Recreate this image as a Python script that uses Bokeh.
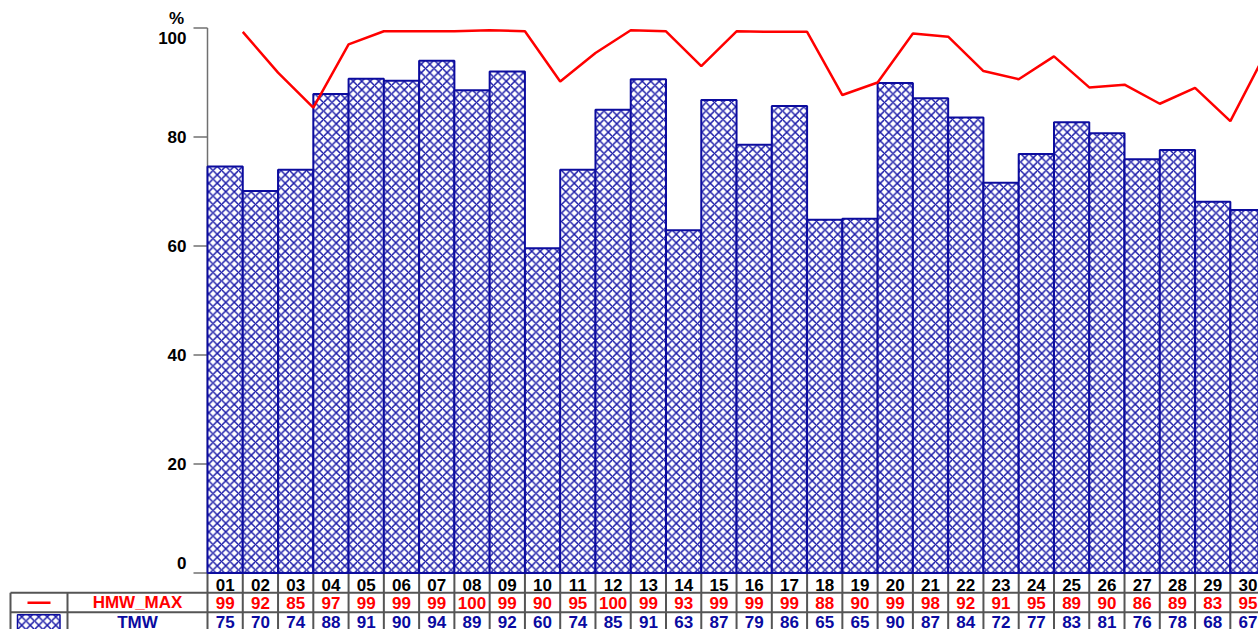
from bokeh.plotting import figure
from bokeh.models import Range1d
from bokeh.core.properties import value
from bokeh.embed import file_html
from bokeh.resources import INLINE

# ---------------- data ----------------
days = ["01", "02", "03", "04", "05", "06", "07", "08", "09", "10",
        "11", "12", "13", "14", "15", "16", "17", "18", "19", "20",
        "21", "22", "23", "24", "25", "26", "27", "28", "29", "30"]
hmw_max = [99.3, 91.8, 85.4, 97.0, 99.4, 99.4, 99.4, 99.6, 99.4, 90.2,
           95.4, 99.6, 99.4, 93.0, 99.4, 99.3, 99.3, 87.7, 90.0, 99.0,
           98.4, 92.1, 90.6, 94.8, 89.1, 89.6, 86.1, 89.0, 82.9, 95.4]
tmw = [74.6, 70.1, 74.0, 87.9, 90.7, 90.3, 94.0, 88.6, 92.0, 59.6,
       74.0, 85.0, 90.6, 62.9, 86.8, 78.6, 85.7, 64.8, 65.0, 89.9,
       87.1, 83.6, 71.6, 76.9, 82.7, 80.7, 75.9, 77.6, 68.1, 66.6]
y_ticks = [0, 20, 40, 60, 80, 100]
series_names = ["HMW_MAX", "TMW"]
unit_label = "%"

# ---------------- layout helpers (page pixel -> data) ----------------
BAR_PX = 35.27      # pixels per day
X_LEFT_PX = 207.0   # page x of left edge of first bar
Y0_PX = 572.5       # page y of value 0
Y_PX = 5.45         # pixels per % unit
TS = -6.5           # text vertical correction (px)


def px2x(px):
    return 0.5 + (px - X_LEFT_PX) / BAR_PX


def py2y(py):
    return (Y0_PX - py) / Y_PX


W, H = 1258, 629
p = figure(width=W, height=H, output_backend="svg", toolbar_location=None,
           x_range=Range1d(px2x(0), px2x(W)),
           y_range=Range1d(py2y(H), py2y(0)),
           x_axis_type=None, y_axis_type=None, min_border=0)
p.grid.visible = False
p.outline_line_color = None
p.background_fill_color = "white"
p.border_fill_color = "white"

FONT = value("Liberation Sans")
RED = "#ff0000"
BLUE_TXT = "#0a0aa0"
BAR_EDGE = "#0c0c9e"
HATCH = "#1a1aa8"
GRID_C = "#707070"
TABLE_C = "#555555"
TXT = dict(text_font=FONT, text_font_style="bold", text_font_size="17px",
           text_baseline="alphabetic")

xs = list(range(1, len(days) + 1))

# y axis
p.segment(x0=[0.5], y0=[0], x1=[0.5], y1=[y_ticks[-1]], line_color=GRID_C, line_width=1.5)
p.segment(x0=[px2x(193)] * len(y_ticks), y0=y_ticks, x1=[0.5] * len(y_ticks), y1=y_ticks,
          line_color=GRID_C, line_width=1.5)
tick_off = [TS + (-3.5 if t == y_ticks[0] else (16.8 if t == y_ticks[-1] else 6.3)) for t in y_ticks]
p.text(x=[px2x(186)] * len(y_ticks), y=y_ticks, text=[str(t) for t in y_ticks],
       y_offset=tick_off, text_align="right", text_color="black", **TXT)
p.text(x=[px2x(176)], y=[py2y(24)], text=[unit_label], text_align="center",
       y_offset=TS, text_color="black", **TXT)

# table grid
x_end = px2x(1300)
y_bot = py2y(660)
p.segment(x0=[0.5], y0=[0], x1=[x_end], y1=[0], line_color=TABLE_C, line_width=2)
for py in (592.3, 611.7):
    p.segment(x0=[px2x(10)], y0=[py2y(py)], x1=[x_end], y1=[py2y(py)],
              line_color=TABLE_C, line_width=2)
p.segment(x0=[px2x(10), px2x(67)], y0=[py2y(592.3)] * 2, x1=[px2x(10), px2x(67)], y1=[y_bot] * 2,
          line_color=TABLE_C, line_width=2)
bounds = [i + 0.5 for i in range(0, len(days) + 1)]
p.segment(x0=bounds, y0=[0] * len(bounds), x1=bounds, y1=[y_bot] * len(bounds),
          line_color=TABLE_C, line_width=2)

# bars
p.vbar(x=xs, top=tmw, bottom=0, width=1.0, fill_color="white",
       line_color=BAR_EDGE, line_width=2,
       hatch_pattern="diagonal_cross", hatch_color=HATCH, hatch_scale=8.5, hatch_weight=1.5)

# line (points at right edge of each day's bar)
p.line(x=[x + 0.5 for x in xs], y=hmw_max, line_color=RED, line_width=2.5)

# table texts
p.text(x=xs, y=[py2y(590.7)] * len(xs), text=days, text_align="center",
       y_offset=TS, text_color="black", **TXT)
p.text(x=xs, y=[py2y(608.6)] * len(xs), text=[str(int(round(v))) for v in hmw_max],
       text_align="center", y_offset=TS, text_color=RED, **TXT)
p.text(x=xs, y=[py2y(628.0)] * len(xs), text=[str(int(round(v))) for v in tmw],
       text_align="center", y_offset=TS, text_color=BLUE_TXT, **TXT)
p.text(x=[px2x(137)], y=[py2y(608.6)], text=[series_names[0]], text_align="center",
       y_offset=TS, text_color=RED, **TXT)
p.text(x=[px2x(137)], y=[py2y(628.0)], text=[series_names[1]], text_align="center",
       y_offset=TS, text_color=BLUE_TXT, **TXT)

# legend symbols
p.segment(x0=[px2x(27)], y0=[py2y(602.3)], x1=[px2x(50)], y1=[py2y(602.3)],
          line_color=RED, line_width=2.5)
p.quad(left=[px2x(17)], right=[px2x(59.5)], top=[py2y(614.3)], bottom=[y_bot],
       fill_color="white", line_color=BAR_EDGE, line_width=1.5,
       hatch_pattern="diagonal_cross", hatch_color=HATCH, hatch_scale=8.5, hatch_weight=1.5)

open("out.html", "w").write(file_html(p, INLINE))
